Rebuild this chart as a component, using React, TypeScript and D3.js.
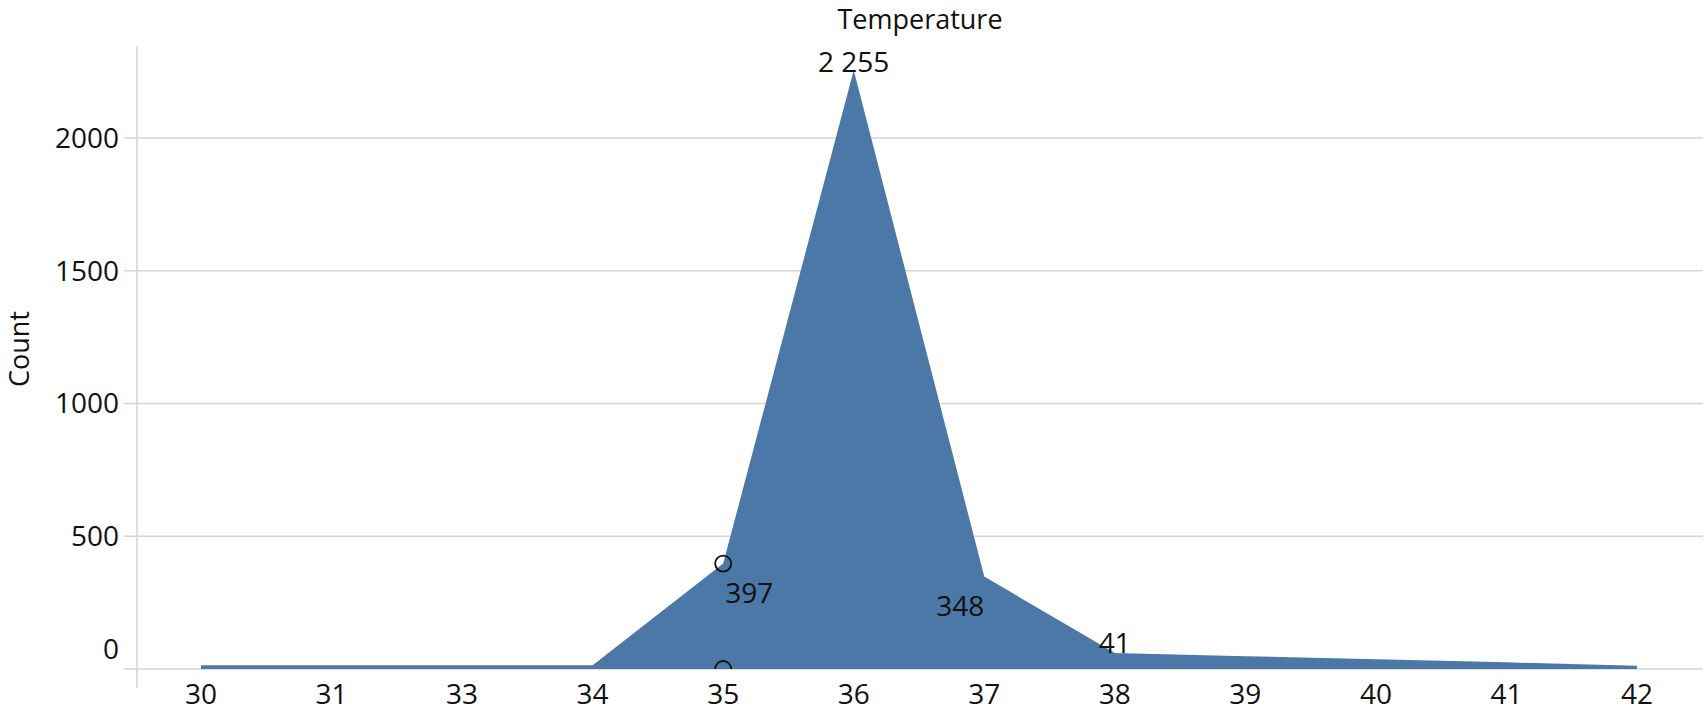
import React, { useRef, useEffect } from "react";
import * as d3 from "d3";

const categories = ["30", "31", "33", "34", "35", "36", "37", "38", "39", "40", "41", "42"];
const counts = [14, 14, 14, 14, 397, 2255, 348, 60, 48, 37, 25, 12];
const yTicks = [0, 500, 1000, 1500, 2000];
// labelled points: category + the number written next to it
const labelKeys = ["36", "35", "37", "38"];
const labelValues = [2255, 397, 348, 41];
// circle markers drawn at category 35
const markerKey = "35";
const markerValues = [397, 0];

export default function App() {
  const svgRef = useRef<SVGSVGElement | null>(null);
  const width = 1708;
  const height = 714;
  const margin = { top: 46, right: 5, bottom: 45, left: 137 };
  const plotBottom = 669;

  useEffect(() => {
    draw();
  }, []);

  const draw = () => {
    const svg = d3.select(svgRef.current);
    svg.selectAll("*").remove();
    const font = "'Open Sans', sans-serif";
    const fmt = d3.formatLocale({ decimal: ".", thousands: " ", grouping: [3], currency: ["", ""] }).format(",d");

    const x = d3.scalePoint<string>().domain(categories).range([201, 1637]);
    const y = d3.scaleLinear().domain([0, 2000]).range([plotBottom, 138]);

    const data = categories.map((c, i) => ({ c, v: counts[i] }));

    svg.append("defs").append("clipPath").attr("id", "plotclip")
      .append("rect")
      .attr("x", margin.left).attr("y", margin.top)
      .attr("width", width - margin.right - margin.left)
      .attr("height", plotBottom - margin.top);

    // gridlines
    const grid = svg.append("g");
    grid.selectAll("line").data(yTicks).join("line")
      .attr("x1", 124).attr("x2", width - margin.right)
      .attr("y1", d => y(d)).attr("y2", d => y(d))
      .attr("stroke", "#d4d4d4").attr("stroke-width", 1.5);

    // y axis line
    svg.append("line")
      .attr("x1", margin.left).attr("x2", margin.left)
      .attr("y1", margin.top).attr("y2", height - 26)
      .attr("stroke", "#d4d4d4").attr("stroke-width", 1.5);

    // y tick labels (the 0 label sits above its line)
    svg.append("g").selectAll("text").data(yTicks).join("text")
      .attr("x", 119)
      .attr("y", d => (d === 0 ? y(d) - 20 : y(d)))
      .attr("dy", "0.35em")
      .attr("text-anchor", "end")
      .attr("font-family", font).attr("font-size", 28)
      .attr("fill", "#111")
      .text(d => d);

    // x labels
    svg.append("g").selectAll("text").data(categories).join("text")
      .attr("x", d => x(d)!)
      .attr("y", 694)
      .attr("dy", "0.35em")
      .attr("text-anchor", "middle")
      .attr("font-family", font).attr("font-size", 28)
      .attr("fill", "#111")
      .text(d => d);

    const plot = svg.append("g").attr("clip-path", "url(#plotclip)");

    const area = d3.area<{ c: string; v: number }>()
      .x(d => x(d.c)!)
      .y0(y(0))
      .y1(d => y(d.v));

    plot.append("path")
      .datum(data)
      .attr("d", area)
      .attr("fill", "#4c78a8");

    plot.selectAll("circle").data(markerValues).join("circle")
      .attr("cx", x(markerKey)!)
      .attr("cy", d => y(d))
      .attr("r", 8)
      .attr("fill", "none")
      .attr("stroke", "#111")
      .attr("stroke-width", 1.8);

    // value labels
    const ann = labelKeys.map((k, i) => ({ k, label: labelValues[i], v: counts[categories.indexOf(k)] }));
    const place: Record<string, { dx: number; dy: number; anchor: string }> = {
      "36": { dx: 0, dy: 2, anchor: "middle" },
      "35": { dx: 2, dy: 39, anchor: "start" },
      "37": { dx: 0, dy: 39, anchor: "end" },
      "38": { dx: 0, dy: 0, anchor: "middle" },
    };
    svg.append("g").selectAll("text").data(ann).join("text")
      .attr("x", d => x(d.k)! + place[d.k].dx)
      .attr("y", d => y(d.v) + place[d.k].dy)
      .attr("text-anchor", d => place[d.k].anchor)
      .attr("font-family", font).attr("font-size", 28)
      .attr("fill", "#111")
      .text(d => fmt(d.label));

    // titles
    svg.append("text")
      .attr("x", 920).attr("y", 20)
      .attr("dy", "0.35em")
      .attr("text-anchor", "middle")
      .attr("font-family", font).attr("font-size", 27)
      .attr("fill", "#111")
      .text("Temperature");

    svg.append("text")
      .attr("transform", "translate(29, 349) rotate(-90)")
      .attr("text-anchor", "middle")
      .attr("font-family", font).attr("font-size", 27)
      .attr("fill", "#111")
      .text("Count");
  };

  return (
    <svg
      ref={svgRef}
      width={width}
      height={height}
      style={{ position: "absolute", left: 0, top: 0, background: "#fff" }}
    ></svg>
  );
}
